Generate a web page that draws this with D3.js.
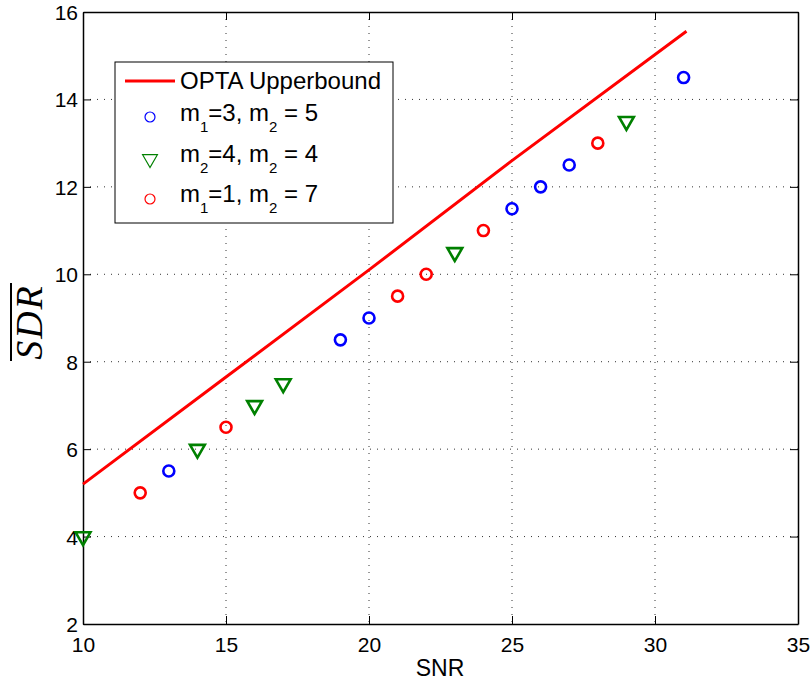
<!DOCTYPE html>
<html>
<head>
<meta charset="utf-8">
<script src="https://cdn.jsdelivr.net/npm/d3@7"></script>
<style>
  body { margin: 0; background: #fff; }
</style>
</head>
<body>
<svg id="chart"></svg>
<script>
// OPTA upper bound (SNR, SDR)
const optaSNR = [10, 15, 20, 25, 31.1];
const optaSDR = [5.2, 7.65, 10.1, 12.6, 15.56];

// scatter series
const blueSNR = [13, 19, 20, 25, 26, 27, 31];
const blueSDR = [5.5, 8.5, 9, 11.5, 12, 12.5, 14.5];
const greenSNR = [10, 14, 16, 17, 23, 29];
const greenSDR = [4, 6, 7, 7.5, 10.5, 13.5];
const redSNR = [12, 15, 21, 22, 24, 28];
const redSDR = [5, 6.5, 9.5, 10, 11, 13];

const xTicks = [10, 15, 20, 25, 30, 35];
const yTicks = [2, 4, 6, 8, 10, 12, 14, 16];

const SANS = '"Liberation Sans", Arial, sans-serif';
const SERIF = '"Liberation Serif", "DejaVu Serif", serif';

const width = 812, height = 681;
const margin = {top: 12, right: 14, bottom: 57, left: 83};
const w = width - margin.left - margin.right;
const h = height - margin.top - margin.bottom;

const svg = d3.select('#chart').attr('width', width).attr('height', height);
const g = svg.append('g').attr('transform', `translate(${margin.left},${margin.top})`);

const x = d3.scaleLinear().domain([10, 35]).range([0, w]);
const y = d3.scaleLinear().domain([2, 16]).range([h, 0]);

// dotted grid
g.append('g').selectAll('line').data(xTicks.slice(1, -1)).join('line')
    .attr('x1', d => x(d)).attr('x2', d => x(d)).attr('y1', 0).attr('y2', h)
    .attr('stroke', '#333').attr('stroke-width', 1).attr('stroke-dasharray', '1,6');
g.append('g').selectAll('line').data(yTicks.slice(1, -1)).join('line')
    .attr('y1', d => y(d)).attr('y2', d => y(d)).attr('x1', 0).attr('x2', w)
    .attr('stroke', '#333').attr('stroke-width', 1).attr('stroke-dasharray', '1,6');

// axes, MATLAB box style with inward ticks
const tickLen = 8;
const xAxisG = g.append('g').attr('transform', `translate(0,${h})`)
    .call(d3.axisBottom(x).tickValues(xTicks).tickSizeInner(-tickLen).tickSizeOuter(0).tickPadding(13));
const yAxisG = g.append('g')
    .call(d3.axisLeft(y).tickValues(yTicks).tickSizeInner(-tickLen).tickSizeOuter(0).tickPadding(5));
g.append('g').call(d3.axisTop(x).tickValues(xTicks).tickSizeInner(-tickLen).tickSizeOuter(0).tickFormat(''));
g.append('g').attr('transform', `translate(${w},0)`)
    .call(d3.axisRight(y).tickValues(yTicks).tickSizeInner(-tickLen).tickSizeOuter(0).tickFormat(''));

g.selectAll('.domain').attr('stroke', '#000').attr('stroke-width', 1.5);
g.selectAll('.tick line').attr('stroke', '#000').attr('stroke-width', 1);
xAxisG.selectAll('text').style('font-size', '21px').style('font-family', SANS).attr('fill', '#000');
yAxisG.selectAll('text').style('font-size', '21px').style('font-family', SANS).attr('fill', '#000')
    .attr('dy', '0.36em');

// OPTA line
const optaData = optaSNR.map((s, i) => ({snr: s, sdr: optaSDR[i]}));
g.append('path').datum(optaData)
    .attr('fill', 'none').attr('stroke', '#ff0000').attr('stroke-width', 3)
    .attr('d', d3.line().x(d => x(d.snr)).y(d => y(d.sdr)));

// markers
const tri = d3.symbol(d3.symbolTriangle, 95);
function circles(snr, sdr, color) {
  g.append('g').selectAll('circle').data(snr.map((s, i) => [s, sdr[i]])).join('circle')
      .attr('cx', d => x(d[0])).attr('cy', d => y(d[1])).attr('r', 5.5)
      .attr('fill', 'none').attr('stroke', color).attr('stroke-width', 2.6);
}
circles(blueSNR, blueSDR, '#0000ff');
circles(redSNR, redSDR, '#ff0000');
g.append('g').selectAll('path').data(greenSNR.map((s, i) => [s, greenSDR[i]])).join('path')
    .attr('d', tri)
    .attr('transform', d => `translate(${x(d[0])},${y(d[1])}) rotate(180)`)
    .attr('fill', 'none').attr('stroke', '#008000').attr('stroke-width', 2.6);

// axis labels
svg.append('text').attr('x', 440).attr('y', 676)
    .attr('text-anchor', 'middle').style('font-family', SANS).style('font-size', '23px').text('SNR');

const yl = svg.append('g').attr('transform', 'translate(42,322) rotate(-90)');
yl.append('text').attr('x', 0).attr('y', 0).attr('text-anchor', 'middle')
    .style('font-family', SERIF).style('font-style', 'italic').style('font-size', '38px')
    .style('letter-spacing', '2px').text('SDR');
yl.append('line').attr('x1', -39).attr('x2', 39).attr('y1', -31).attr('y2', -31)
    .attr('stroke', '#000').attr('stroke-width', 2);

// legend
const legend = svg.append('g');
legend.append('rect').attr('x', 115).attr('y', 62).attr('width', 278).attr('height', 161)
    .attr('fill', '#fff').attr('stroke', '#000').attr('stroke-width', 1);
legend.append('line').attr('x1', 125).attr('x2', 175).attr('y1', 81).attr('y2', 81)
    .attr('stroke', '#ff0000').attr('stroke-width', 3);
legend.append('text').attr('x', 180).attr('y', 89)
    .style('font-family', SANS).style('font-size', '24px').text('OPTA Upperbound');

const legendLabels = [
  [['m', ''], ['1', 'sub'], ['=3, m', ''], ['2', 'sub'], [' = 5', '']],
  [['m', ''], ['2', 'sub'], ['=4, m', ''], ['2', 'sub'], [' = 4', '']],
  [['m', ''], ['1', 'sub'], ['=1, m', ''], ['2', 'sub'], [' = 7', '']]
];
const legendY = [117, 159, 199];
const legendBase = [121, 162, 202];
legendLabels.forEach((parts, i) => {
  const t = legend.append('text').attr('x', 180).attr('y', legendBase[i])
      .style('font-family', SANS).style('font-size', '24px');
  let down = false;
  parts.forEach(p => {
    const sp = t.append('tspan').text(p[0]);
    if (p[1] === 'sub') { sp.style('font-size', '15px').attr('dy', 11); down = true; }
    else if (down) { sp.attr('dy', -11); down = false; }
  });
});
legend.append('circle').attr('cx', 150).attr('cy', legendY[0]).attr('r', 5)
    .attr('fill', 'none').attr('stroke', '#0000ff').attr('stroke-width', 1.2);
legend.append('path').attr('d', tri)
    .attr('transform', `translate(150,${legendY[1]}) rotate(180)`)
    .attr('fill', 'none').attr('stroke', '#008000').attr('stroke-width', 1.2);
legend.append('circle').attr('cx', 150).attr('cy', legendY[2]).attr('r', 5)
    .attr('fill', 'none').attr('stroke', '#ff0000').attr('stroke-width', 1.2);
</script>
</body>
</html>
